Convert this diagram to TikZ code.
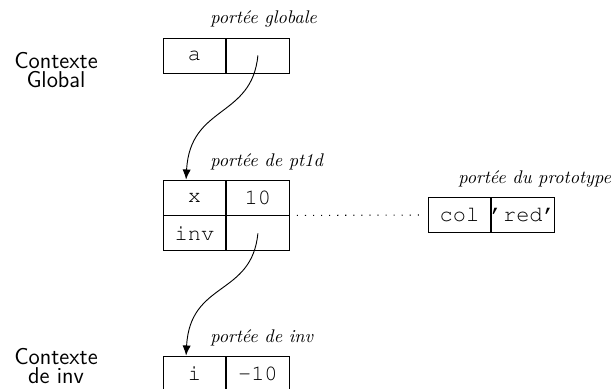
\documentclass[tikz,border=0pt]{standalone}
\usepackage[T1,TU]{fontenc}
\usepackage{tikz}
\usetikzlibrary{positioning,arrows.meta}

\newcommand\celltt{\fontencoding{T1}\fontfamily{pcr}\fontsize{12}{14}\selectfont}
\newcommand\cellbox[1]{\makebox[0pt]{#1}}

\tikzset{
  cell/.style={draw, line width=0.5pt, minimum width=34.1pt, minimum height=19.1pt, inner sep=0pt, font=\celltt},
  scopelabel/.style={font=\itshape, anchor=base west, inner sep=0pt},
  ctxlabel/.style={font=\sffamily\fontsize{12.5}{10}\selectfont, align=center, inner sep=0pt},
  link/.style={line width=0.5pt, -{Latex[length=5.5pt,width=4.5pt]}},
}

\begin{document}
\begin{tikzpicture}[x=0.546pt,y=-0.546pt]
\useasboundingbox (0,0) rectangle (614,388);
% contextes
\node [ctxlabel] (ctxglob) at (56,70) {Contexte\\Global};
\node [ctxlabel] (ctxinv) at (56,366) {Contexte\\de inv};
% portee globale
\node [cell] (gkey) at (194.5,55.5) {a};
\node [cell, right=0pt of gkey] (gval) {};
\node [scopelabel] (lglob) at (210,23) {portée globale};
% portee de pt1d
\node [cell] (xkey) at (194.5,197.5) {x};
\node [cell, right=0pt of xkey] (xval) {10};
\node [cell, below=0pt of xkey] (invkey) {inv};
\node [cell, right=0pt of invkey] (invval) {};
\node [scopelabel] (lpt) at (210,166) {portée de pt1d};
% portee du prototype
\node [cell] (colkey) at (459.5,215) {col};
\node [cell, right=0pt of colkey] (colval) {\cellbox{'red'}};
\node [scopelabel] (lproto) at (458,183) {portée du prototype};
% portee de inv
\node [cell] (ikey) at (194.5,373.5) {i};
\node [cell, right=0pt of ikey] (ival) {\cellbox{-10}};
\node [scopelabel] (linv) at (210,342) {portée de inv};
% liens
\coordinate (xin) at ([xshift=-4.6pt]xkey.north);
\coordinate (iin) at ([xshift=-4.6pt]ikey.north);
\draw [link] (gval.center) .. controls +(-6,63) and +(4,-75) .. (xin);
\draw [link] (invval.center) .. controls +(-6,63) and +(4,-75) .. (iin);
\draw [line width=0.6pt, dash pattern=on 0.6pt off 3.8pt, shorten <=4pt, shorten >=4pt] (xval.south east) -- (colkey.west);
\end{tikzpicture}
\end{document}
